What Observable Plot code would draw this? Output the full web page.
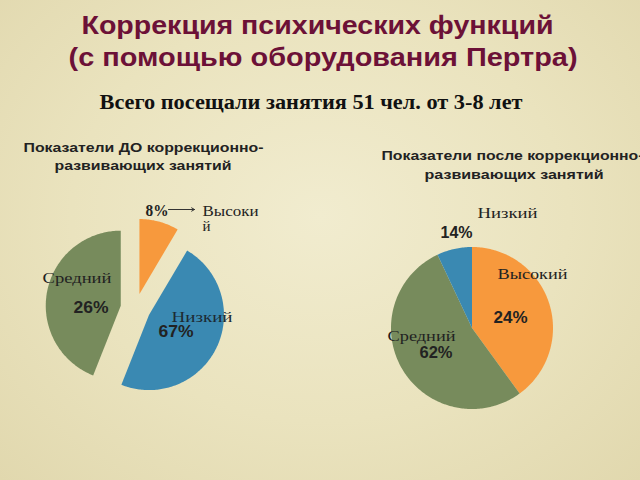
<!DOCTYPE html>
<html><head><meta charset="utf-8">
<script src="https://cdn.jsdelivr.net/npm/d3@7"></script>
<script src="https://cdn.jsdelivr.net/npm/@observablehq/plot@0.6"></script>
<style>
html,body{margin:0;padding:0;width:640px;height:480px;overflow:hidden;}
body{background: radial-gradient(ellipse at 50% 45%, #F1ECCF 0%, #EAE3BE 55%, #E1D8AE 100%);}
#chart svg{display:block}
</style></head><body><div id="chart"></div>
<script>
// ---------- data ----------
const categories = ["Высокий", "Низкий", "Средний"];
const pctBefore = [8, 67, 26];          // percentages printed on the "before" pie
const pctAfter = [24, 14, 62];          // percentages printed on the "after" pie
const shareBefore = [8.5, 47.5, 44];
const shareAfter = [40, 53, 7];         // slice sizes as drawn, in drawing order
const orderBefore = ["Высокий", "Низкий", "Средний"];
const orderAfter = ["Высокий", "Средний", "Низкий"];
const titleLines = ["Коррекция психических функций", "(с помощью оборудования Пертра)"];
const subtitle = "Всего посещали занятия 51 чел. от 3-8 лет";
const pieTitleBefore = ["Показатели ДО коррекционно-", "развивающих занятий"];
const pieTitleAfter = ["Показатели после коррекционно-", "развивающих занятий"];

// ---------- styles / layout ----------
const sliceColor = {"Высокий": "#F7993D", "Низкий": "#3A89B2", "Средний": "#778B5C"};
const pieGeom = [
  {order: orderBefore, share: shareBefore, cx: 135, cy: 308, r: 75, explode: 15},
  {order: orderAfter, share: shareAfter, cx: 471.5, cy: 327.5, r: 81, explode: 0}
];
const SANS = "'Liberation Sans', Arial, sans-serif";
const SERIF = "'Liberation Serif', 'Times New Roman', serif";
const DARK = "#222";
const MAROON = "#6C1137";

function slicePolys(g) {
  const total = d3.sum(g.share);
  let a0 = 0;
  const out = [];
  g.order.forEach((cat, i) => {
    const a1 = a0 + g.share[i] / total * 2 * Math.PI;
    const mid = (a0 + a1) / 2;
    const ax = g.cx + g.explode * Math.sin(mid), ay = g.cy - g.explode * Math.cos(mid);
    const pts = [{x: ax, y: ay}];
    const n = Math.max(2, Math.ceil((a1 - a0) / (Math.PI / 180)));
    for (let k = 0; k <= n; k++) {
      const a = a0 + (a1 - a0) * k / n;
      pts.push({x: ax + g.r * Math.sin(a), y: ay - g.r * Math.cos(a)});
    }
    pts.push({x: ax, y: ay});
    out.push({cat, pts});
    a0 = a1;
  });
  return out;
}

const idx = c => categories.indexOf(c);
const texts = [
  {t: titleLines[0], x: 317, y: 33, w: 472, size: 25, fam: SANS, wt: "bold", fill: MAROON, anchor: "middle"},
  {t: titleLines[1], x: 322.5, y: 65, w: 509, size: 25, fam: SANS, wt: "bold", fill: MAROON, anchor: "middle"},
  {t: subtitle, x: 310.5, y: 108, w: 423, size: 20, fam: SERIF, wt: "bold", fill: "#111", anchor: "middle"},
  {t: pieTitleBefore[0], x: 143, y: 151, w: 240, size: 13, fam: SANS, wt: "bold", fill: DARK, anchor: "middle"},
  {t: pieTitleBefore[1], x: 142.5, y: 169.5, w: 177, size: 13, fam: SANS, wt: "bold", fill: DARK, anchor: "middle"},
  {t: pieTitleAfter[0], x: 381, y: 159, w: 262, size: 13, fam: SANS, wt: "bold", fill: DARK, anchor: "start"},
  {t: pieTitleAfter[1], x: 513.5, y: 178.5, w: 179, size: 13, fam: SANS, wt: "bold", fill: DARK, anchor: "middle"},
  // before pie labels
  {t: pctBefore[idx("Высокий")] + "%", x: 145, y: 215, w: 23, size: 16, fam: SERIF, wt: "bold", fill: DARK, anchor: "start"},
  {t: categories[idx("Высокий")].slice(0, -1), x: 202, y: 215, w: 56, size: 15, fam: SERIF, wt: "normal", fill: DARK, anchor: "start"},
  {t: categories[idx("Высокий")].slice(-1), x: 202, y: 230, w: 8, size: 15, fam: SERIF, wt: "normal", fill: DARK, anchor: "start"},
  {t: categories[idx("Средний")], x: 42, y: 282, w: 69, size: 15, fam: SERIF, wt: "normal", fill: DARK, anchor: "start"},
  {t: pctBefore[idx("Средний")] + "%", x: 73, y: 312, w: 35, size: 16, fam: SANS, wt: "bold", fill: DARK, anchor: "start"},
  {t: categories[idx("Низкий")], x: 171, y: 321.5, w: 61, size: 15, fam: SERIF, wt: "normal", fill: "#1d2a33", anchor: "start"},
  {t: pctBefore[idx("Низкий")] + "%", x: 158, y: 336, w: 35, size: 16, fam: SANS, wt: "bold", fill: DARK, anchor: "start"},
  // after pie labels
  {t: categories[idx("Низкий")], x: 477, y: 217, w: 60, size: 15, fam: SERIF, wt: "normal", fill: DARK, anchor: "start"},
  {t: pctAfter[idx("Низкий")] + "%", x: 440, y: 237, w: 32, size: 16, fam: SANS, wt: "bold", fill: DARK, anchor: "start"},
  {t: categories[idx("Высокий")], x: 497, y: 278.5, w: 70, size: 15, fam: SERIF, wt: "normal", fill: DARK, anchor: "start"},
  {t: pctAfter[idx("Высокий")] + "%", x: 493, y: 322, w: 34, size: 16, fam: SANS, wt: "bold", fill: DARK, anchor: "start"},
  {t: categories[idx("Средний")], x: 387, y: 340, w: 68, size: 15, fam: SERIF, wt: "normal", fill: DARK, anchor: "start"},
  {t: pctAfter[idx("Средний")] + "%", x: 419, y: 357.5, w: 33, size: 16, fam: SANS, wt: "bold", fill: DARK, anchor: "start"}
];
const arrowSeg = [{x1: 168, y1: 209, x2: 194, y2: 209}];

const sliceMarks = pieGeom.flatMap(g => slicePolys(g).map(s =>
  Plot.line(s.pts, {x: "x", y: "y", fill: sliceColor[s.cat], stroke: "none", curve: "linear"})));

const textMarks = texts.map(d => Plot.text([d], {
  x: "x", y: "y", text: "t", textAnchor: d.anchor, lineAnchor: "bottom",
  fontSize: d.size, fontFamily: d.fam, fontWeight: d.wt, fill: d.fill
}));

const chart = Plot.plot({
  width: 640, height: 480, margin: 0,
  x: {domain: [0, 640], range: [0, 640], axis: null},
  y: {domain: [0, 480], range: [0, 480], axis: null},
  style: {background: "transparent", overflow: "hidden"},
  marks: [
    ...sliceMarks,
    Plot.arrow(arrowSeg, {x1: "x1", y1: "y1", x2: "x2", y2: "y2", stroke: "#333", strokeWidth: 1, headLength: 5, bend: 0}),
    ...textMarks
  ]
});
document.getElementById("chart").append(chart);

// stretch each text to the width it has in the reference
d3.select(chart).selectAll('g[aria-label="text"]').each(function(_, i) {
  const d = texts[i];
  d3.select(this).selectAll("text").attr("textLength", d.w).attr("lengthAdjust", "spacingAndGlyphs");
});
</script></body></html>
